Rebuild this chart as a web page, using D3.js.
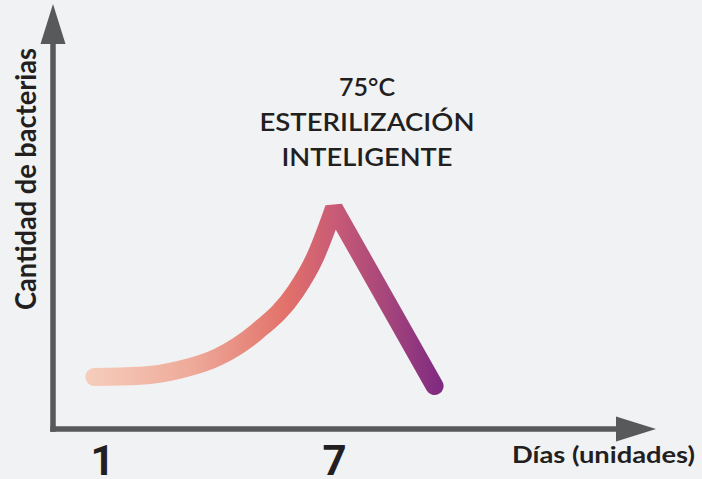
<!DOCTYPE html>
<html>
<head>
<meta charset="utf-8">
<script src="https://cdn.jsdelivr.net/npm/d3@7"></script>
<style>
  html, body { margin: 0; padding: 0; background: #f1f2f4; }
  svg { display: block; }
</style>
</head>
<body>
<svg id="chart" width="702" height="479"></svg>
<script>
// Bacteria count (arbitrary units) over days: growth up to day 7, then drop after sterilisation
const days        = [0.8, 2, 3, 4, 5, 6, 6.5, 7];
const bacteria    = [13, 13.3, 14.8, 18, 24.3, 34.3, 42.7, 55.2];
const dropDays    = [7, 9.6];
const dropValues  = [55.2, 10.75];
const dayTicks    = [1, 7];
const calloutLines = ["75°C", "ESTERILIZACIÓN", "INTELIGENTE"];
const xTitle = "Días (unidades)";
const yTitle = "Cantidad de bacterias";

const svg = d3.select("#chart");

const x = d3.scaleLinear().domain([1, 7]).range([102, 334]);
const y = d3.scaleLinear().domain([0, 100]).range([429, 29]);

const axisColor = "#58595b";
const ink = "#231f20";

// Gradient along the curve, peach -> coral -> purple
const defs = svg.append("defs");
const grad = defs.append("linearGradient")
  .attr("id", "curveGrad")
  .attr("gradientUnits", "userSpaceOnUse")
  .attr("x1", x(0.8) - 9).attr("y1", 0)
  .attr("x2", x(9.6) + 9).attr("y2", 0);
[
  [0.00, "#f6cdbc"],
  [0.30, "#eeaa99"],
  [0.56, "#e2716a"],
  [0.70, "#c85a76"],
  [0.84, "#a6467b"],
  [1.00, "#7e2982"]
].forEach(([o, c]) => grad.append("stop").attr("offset", o).attr("stop-color", c));

// Axes with arrowheads
const x0 = 53, yBase = 429;
svg.append("line")
  .attr("x1", x0).attr("y1", yBase + 2.75)
  .attr("x2", x0).attr("y2", 44)
  .attr("stroke", axisColor).attr("stroke-width", 5.5);
svg.append("path")
  .attr("d", `M${x0 - 12.5},44 L${x0 + 12.5},44 L${x0},4 Z`)
  .attr("fill", axisColor);
svg.append("line")
  .attr("x1", x0 - 2.75).attr("y1", yBase)
  .attr("x2", 618).attr("y2", yBase)
  .attr("stroke", axisColor).attr("stroke-width", 5.5);
svg.append("path")
  .attr("d", `M616,${yBase - 12.5} L616,${yBase + 12.5} L656,${yBase} Z`)
  .attr("fill", axisColor);

// Day tick labels
const xAxis = d3.axisBottom(x).tickValues(dayTicks).tickSize(0).tickPadding(16)
  .tickFormat(d3.format("d"));
const gx = svg.append("g").attr("transform", `translate(0,${yBase})`).call(xAxis);
gx.select(".domain").remove();
gx.selectAll("text")
  .attr("fill", ink)
  .style("font-family", "Roboto, 'Open Sans', sans-serif")
  .style("font-weight", 700)
  .style("font-size", "42px");

// Curve: smooth rise, straight fall
const rise = d3.line().x(d => x(d[0])).y(d => y(d[1])).curve(d3.curveMonotoneX);
const fall = d3.line().x(d => x(d[0])).y(d => y(d[1]));
const risePts = days.map((d, i) => [d, bacteria[i]]);
const fallPts = dropDays.map((d, i) => [d, dropValues[i]]);
const pathD = rise(risePts) + "L" + fall(fallPts).slice(1).split("L").slice(1).join("L");
svg.append("path")
  .attr("d", pathD)
  .attr("fill", "none")
  .attr("stroke", "url(#curveGrad)")
  .attr("stroke-width", 18)
  .attr("stroke-linecap", "round")
  .attr("stroke-linejoin", "bevel");

// Callout above the peak
const callout = svg.append("text")
  .attr("fill", ink)
  .attr("text-anchor", "middle")
  .style("font-family", "Lato, 'Open Sans', sans-serif")
  .style("font-weight", 600)
  .style("font-size", "24px");
const widths = [56, 215, 171];
calloutLines.forEach((t, i) => {
  callout.append("tspan")
    .attr("x", 367)
    .attr("y", 96 + i * 35)
    .attr("textLength", widths[i])
    .attr("lengthAdjust", "spacingAndGlyphs")
    .text(t);
});

// Axis titles
svg.append("text")
  .attr("x", 695).attr("y", 463)
  .attr("text-anchor", "end")
  .attr("fill", ink)
  .attr("textLength", 183)
  .attr("lengthAdjust", "spacingAndGlyphs")
  .style("font-family", "Lato, 'Open Sans', sans-serif")
  .style("font-weight", 700)
  .style("font-size", "23px")
  .text(xTitle);

svg.append("text")
  .attr("transform", "translate(36,310) rotate(-90)")
  .attr("text-anchor", "start")
  .attr("fill", ink)
  .attr("textLength", 262)
  .attr("lengthAdjust", "spacingAndGlyphs")
  .style("font-family", "Lato, 'Open Sans', sans-serif")
  .style("font-weight", 700)
  .style("font-size", "28px")
  .text(yTitle);
</script>
</body>
</html>
